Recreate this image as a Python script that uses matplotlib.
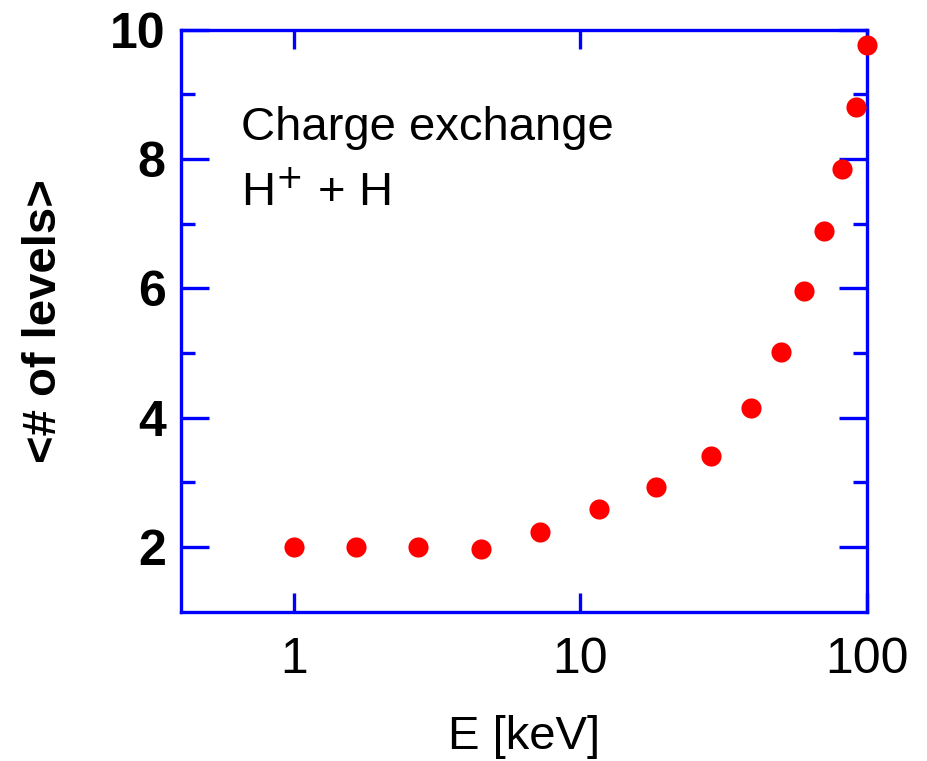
import numpy as np
import matplotlib.pyplot as plt
from matplotlib.ticker import FixedLocator, NullLocator, FixedFormatter

plt.rcParams['font.family'] = ['Liberation Sans', 'DejaVu Sans']

# mean number of levels populated by charge exchange, H+ + H
energy_kev = [1.0, 1.65, 2.71, 4.5, 7.25, 11.6, 18.4, 28.5, 39.3, 50.0,
              60.2, 70.8, 81.8, 91.5, 100.0]
n_levels = [2.0, 2.0, 2.0, 1.97, 2.23, 2.59, 2.93, 3.41, 4.15, 5.02,
            5.96, 6.89, 7.84, 8.81, 9.77]

x_ticks = [1, 10, 100]
x_tick_labels = ['1', '10', '100']
y_major = [2, 4, 6, 8, 10]
y_minor = [3, 5, 7, 9]

blue = '#0000ff'

fig = plt.figure(figsize=(9.28, 7.61), dpi=100)
ax = fig.add_axes([0.195, 0.196, 0.739, 0.765])

ax.plot(energy_kev, n_levels, 'o', color='#ff0000', markersize=14.5,
        markeredgewidth=0, clip_on=False, zorder=5)

ax.set_xscale('log')
ax.set_xlim(0.403, 100)
ax.set_ylim(1, 10)

ax.xaxis.set_major_locator(FixedLocator(x_ticks))
ax.xaxis.set_major_formatter(FixedFormatter(x_tick_labels))
ax.xaxis.set_minor_locator(NullLocator())
ax.set_yticks(y_major)
ax.set_yticks(y_minor, minor=True)

for side in ax.spines.values():
    side.set_color(blue)
    side.set_linewidth(2.4)

ax.tick_params(axis='both', which='both', direction='in', color=blue,
               width=2.4, top=True, right=True)
ax.tick_params(axis='y', which='major', length=20, pad=11, labelsize=36)
ax.tick_params(axis='y', which='minor', length=10)
ax.tick_params(axis='x', which='major', length=14, pad=18, labelsize=36)
for lab in ax.get_yticklabels():
    lab.set_fontweight('bold')

ax.set_xlabel('E [keV]', fontsize=34, labelpad=23)
ax.set_ylabel('<# of levels>', fontsize=34, fontweight='bold', labelpad=32)

ax.text(0.087, 0.811, 'Charge exchange', transform=ax.transAxes, fontsize=34)
ax.text(0.087, 0.697, 'H$^{+}$ + H', transform=ax.transAxes, fontsize=34)

fig.savefig('out.png', dpi=100)
